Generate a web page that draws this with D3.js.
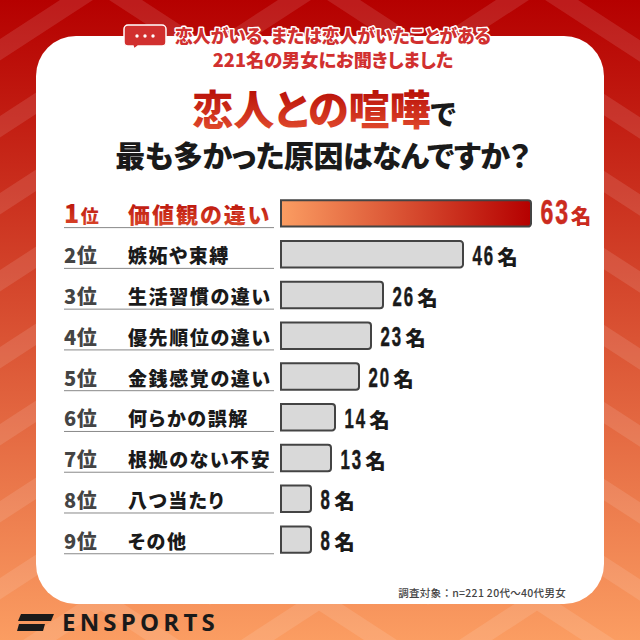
<!DOCTYPE html>
<html><head><meta charset="utf-8">
<style>html,body{margin:0;padding:0;background:#fff}svg{display:block}text{font-family:"Noto Sans CJK JP","Noto Sans",sans-serif;font-feature-settings:"palt"}</style>
<script src="https://cdn.jsdelivr.net/npm/d3@7/dist/d3.min.js"></script>
</head><body><div id="c"></div>
<script>
const ranks=["1位","2位","3位","4位","5位","6位","7位","8位","9位"];
const categories=["価値観の違い","嫉妬や束縛","生活習慣の違い","優先順位の違い","金銭感覚の違い","何らかの誤解","根拠のない不安","八つ当たり","その他"];
const values=[63,46,26,23,20,14,13,8,8];
const unit="名";
const subtitle=["恋人がいる、または恋人がいたことがある","221名の男女にお聞きしました"];
const note="調査対象：n=221 20代～40代男女";
const brand="ENSPORTS";

const svg=d3.select("#c").append("svg").attr("width",640).attr("height",640);
const defs=svg.append("defs");
function grad(id,stops,x2,y2){const g=defs.append("linearGradient").attr("id",id).attr("x1",0).attr("y1",0).attr("x2",x2).attr("y2",y2);
 stops.forEach(s=>g.append("stop").attr("offset",s[0]).attr("stop-color",s[1]));}
grad("bg",[[0,"#b50000"],[1,"#fb9d62"]],0,1);
grad("bar",[[0,"#fb9d62"],[1,"#b50000"]],1,0);
defs.append("linearGradient").attr("id","tt").attr("gradientUnits","userSpaceOnUse").attr("x1",0).attr("y1",90).attr("x2",0).attr("y2",130)
 .call(g=>{g.append("stop").attr("offset",0).attr("stop-color","#b81008");g.append("stop").attr("offset",1).attr("stop-color","#e0492c");});
defs.append("linearGradient").attr("id","t1").attr("gradientUnits","userSpaceOnUse").attr("x1",0).attr("y1",200).attr("x2",0).attr("y2",228)
 .call(g=>{g.append("stop").attr("offset",0).attr("stop-color","#b81008");g.append("stop").attr("offset",1).attr("stop-color","#dc4a2c");});

svg.append("rect").attr("width",640).attr("height",640).attr("fill","url(#bg)");
const zig=d3.line();
const stripes=svg.append("g").attr("fill","none").attr("stroke","#fff").attr("stroke-opacity",0.11).attr("stroke-width",18);
d3.range(-1,9).forEach(k=>{
 const yA=-16+77*k, pts=[];
 for(let i=-1;i<4;i++){pts.push([101+218*i,yA]);pts.push([210+218*i,yA+71]);}
 stripes.append("path").attr("d",zig(pts));
});
svg.append("rect").attr("x",36).attr("y",36).attr("width",568).attr("height",568).attr("rx",40).attr("fill","#fff");

svg.append("path").attr("d","M128 25H162a4 4 0 0 1 4 4V42a4 4 0 0 1 -4 4H138l-4 3-1-3H128a4 4 0 0 1 -4-4V29a4 4 0 0 1 4-4Z").attr("fill","#d1302f").attr("stroke","#fff").attr("stroke-width",1.5);
svg.append("g").selectAll("circle").data([137,145,153]).join("circle").attr("cx",d=>d).attr("cy",36).attr("r",1.7).attr("fill","#fff");

const subColor="#d1302f";
subtitle.forEach((s,i)=>{
 svg.append("text").attr("x",333).attr("y",i?67:43).attr("text-anchor","middle").attr("font-size",i?18.2:17.8).attr("font-weight",900).attr("fill",subColor)
  .attr("stroke","#fff").attr("stroke-width",3).attr("paint-order","stroke").attr("stroke-linejoin","round").text(s);
});
const t1=svg.append("text").attr("x",324).attr("y",125).attr("text-anchor","middle").attr("font-size",41).attr("font-weight",900);
t1.append("tspan").attr("fill","url(#tt)").text("恋人との喧嘩");
t1.append("tspan").attr("fill","#1a1a1a").attr("font-size",28).text("で");
svg.append("text").attr("x",322.5).attr("y",167).attr("text-anchor","middle").attr("font-size",30).attr("font-weight",900).attr("fill","#1a1a1a").attr("letter-spacing",-0.5).text("最も多かった原因はなんですか？");

const x=d3.scaleLinear().domain([0,63]).range([0,252]);
const y=d3.scaleBand().domain(categories).range([192.9,560.1]).paddingInner(0.353).paddingOuter(0.18);
const g=svg.append("g");
const row=g.selectAll("g").data(categories).join("g");
function barPath(c,i){const p=d3.path(),r=3,l=281,t=y(c),h=y.bandwidth(),e=l+x(values[i])-2;
 p.moveTo(l,t);p.lineTo(e-r,t);p.arcTo(e,t,e,t+r,r);p.lineTo(e,t+h-r);p.arcTo(e,t+h,e-r,t+h,r);p.lineTo(l,t+h);p.closePath();return p.toString();}
row.append("path").attr("d",barPath).attr("fill",(c,i)=>i?"#d9d9d9":"url(#bar)").attr("stroke","#444").attr("stroke-width",2);
row.append("line").attr("x1",64).attr("x2",274).attr("y1",c=>y(c)+y.bandwidth()+1).attr("y2",c=>y(c)+y.bandwidth()+1).attr("stroke","#888").attr("stroke-width",1);
row.append("text").attr("x",64).attr("y",c=>y(c)+y.bandwidth()-4).attr("font-weight",900).attr("letter-spacing",0.5)
 .attr("fill",(c,i)=>i?"#444":"url(#t1)")
 .each(function(c,i){const t=d3.select(this);const r=ranks[i];
  t.append("tspan").attr("font-size",i?20:25).text(r[0]);
  t.append("tspan").attr("font-size",i?20:18).attr("dx",i?0:1).text(r[1]);});
row.append("text").attr("x",128).attr("y",c=>y(c)+y.bandwidth()-4).attr("font-weight",900)
 .attr("font-size",(c,i)=>i?19:22).attr("letter-spacing",(c,i)=>i?1.6:2)
 .attr("fill",(c,i)=>i?"#1a1a1a":"url(#t1)").text(c=>c);
row.each(function(c,i){
 const gx=281+x(values[i])+7.5, by=y(c)+y.bandwidth()-2.5;
 const n=d3.select(this).append("g").attr("fill",i?"#1a1a1a":"#cb2b1e");
 const s=String(values[i]);
 const fs=i?28:35, sx=i?0.6:0.66;
 const nt=n.append("text").attr("transform",`translate(${gx},${by}) scale(${sx},1)`).style("font-family","'Liberation Sans',sans-serif").attr("font-weight",700).attr("font-size",fs).attr("letter-spacing",3).attr("stroke",i?"#1a1a1a":"#cb2b1e").attr("stroke-width",0.5).text(s);
 const w=nt.node().getComputedTextLength()*sx;
 n.append("text").attr("x",gx+w+(i?2.5:0.5)).attr("y",by).attr("font-weight",900).attr("font-size",i?20.5:20.5).text(unit);
});
svg.append("text").attr("x",566).attr("y",597).attr("text-anchor","end").attr("font-size",10.5).attr("font-weight",500).attr("fill","#444").attr("letter-spacing",0.3).style("font-feature-settings","normal").text(note);
const logo=svg.append("g").attr("fill","#1a1a1a");
logo.append("path").attr("d","M21 614H54L51 621H18Z");
logo.append("path").attr("d","M19 624H45L43 631H17Z");
svg.append("text").attr("x",62).attr("y",631).attr("font-size",24).attr("font-weight",700).attr("letter-spacing",4.2).attr("fill","#1a1a1a").style("font-family","'Open Sans',sans-serif").text(brand);
</script></body></html>
